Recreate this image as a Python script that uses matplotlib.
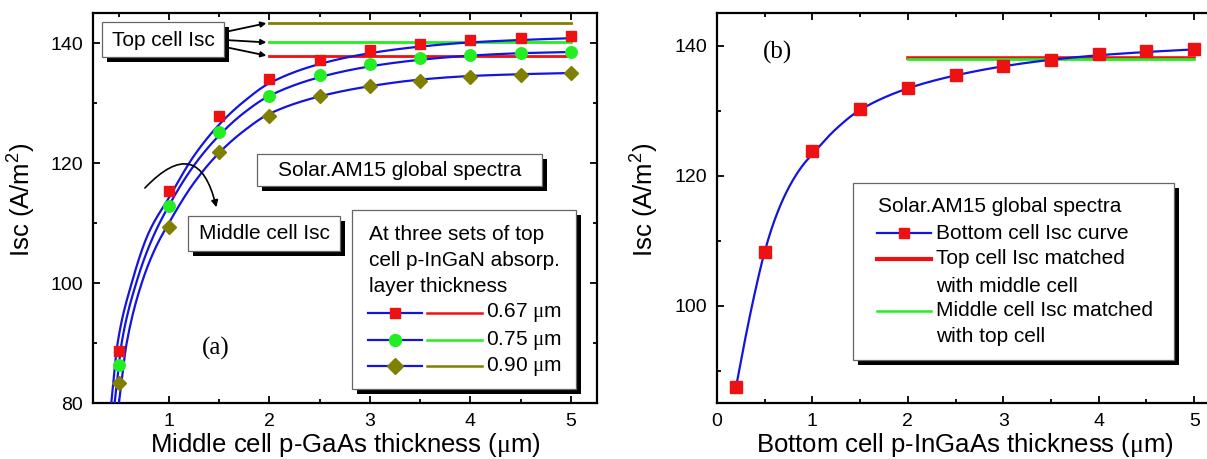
import numpy as np
import matplotlib
matplotlib.use("Agg")
import matplotlib.pyplot as plt
from matplotlib.patches import Rectangle, FancyArrowPatch
from matplotlib.lines import Line2D

plt.rcParams['font.family'] = ['Liberation Sans', 'DejaVu Sans']
plt.rcParams['mathtext.fontset'] = 'custom'
plt.rcParams['mathtext.rm'] = 'Liberation Serif'
plt.rcParams['mathtext.sf'] = 'Liberation Sans'
plt.rcParams['mathtext.it'] = 'Liberation Sans:italic'

# ---------------- panel (a): middle cell ----------------
thick_a = [0.5, 1.0, 1.5, 2.0, 2.5, 3.0, 3.5, 4.0, 4.5, 5.0]
isc_067 = [88.7, 115.4, 127.8, 134.0, 137.2, 138.8, 139.8, 140.5, 140.9, 141.1]
isc_075 = [86.4, 112.9, 125.2, 131.2, 134.7, 136.5, 137.5, 138.0, 138.3, 138.5]
isc_090 = [83.4, 109.4, 121.8, 127.9, 131.2, 132.8, 133.7, 134.3, 134.7, 135.0]

# fitted curves
fit_x_067 = [0.427, 0.49, 0.63, 0.8, 1.0, 1.25, 1.5, 1.75, 2.0, 2.5, 3.0, 3.5, 4.0, 4.5, 5.0]
fit_y_067 = [80.0, 90.0, 100.0, 108.4, 114.2, 121.2, 126.4, 130.3, 133.3, 136.5, 138.3, 139.4, 140.1, 140.5, 140.8]
fit_x_075 = [0.46, 0.53, 0.675, 0.83, 1.0, 1.25, 1.5, 1.75, 2.0, 2.5, 3.0, 3.5, 4.0, 4.5, 5.0]
fit_y_075 = [80.0, 90.0, 100.0, 107.2, 112.9, 119.6, 124.6, 128.4, 131.2, 134.3, 136.1, 137.2, 137.9, 138.3, 138.5]
fit_x_090 = [0.503, 0.58, 0.73, 0.86, 1.0, 1.25, 1.5, 1.75, 2.0, 2.5, 3.0, 3.5, 4.0, 4.5, 5.0]
fit_y_090 = [80.0, 90.0, 100.0, 105.6, 110.0, 116.7, 121.7, 125.4, 128.2, 131.1, 132.8, 133.9, 134.5, 134.8, 135.0]

# top cell Isc at three InGaN thicknesses
top_x = [2.0, 5.0]
top_067 = 137.9
top_075 = 140.1
top_090 = 143.3

# ---------------- panel (b): bottom cell ----------------
thick_b = [0.2, 0.5, 1.0, 1.5, 2.0, 2.5, 3.0, 3.5, 4.0, 4.5, 5.0]
isc_bottom = [87.5, 108.3, 123.8, 130.3, 133.5, 135.5, 136.9, 137.8, 138.7, 139.2, 139.5]
curve_x_b = [0.2, 0.3, 0.4, 0.5, 0.6, 0.7, 0.8, 0.9, 1.0, 1.25, 1.5, 2.0, 2.5, 3.0, 3.5, 4.0, 4.5, 5.0]
curve_y_b = [87.5, 95.2, 102.2, 108.3, 113.0, 116.6, 119.4, 121.6, 123.3, 127.2, 130.1, 133.4, 135.4, 136.8, 137.8, 138.5, 139.0, 139.4]
matched_x = [2.0, 5.0]
matched_top = 138.05
matched_mid = 138.0

RED = '#ee1111'
GREEN = '#22ee22'
OLIVE = '#808000'
BLUE = '#1414e0'


def smooth(x, y, n=300):
    """Shape-preserving cubic through the given curve samples."""
    x = np.asarray(x, float)
    y = np.asarray(y, float)
    h = np.diff(x)
    d = np.diff(y) / h
    m = np.zeros_like(y)
    m[0], m[-1] = d[0], d[-1]
    for k in range(1, len(x) - 1):
        if d[k - 1] * d[k] > 0:
            w1 = 2 * h[k] + h[k - 1]
            w2 = h[k] + 2 * h[k - 1]
            m[k] = (w1 + w2) / (w1 / d[k - 1] + w2 / d[k])
    xn = np.linspace(x[0], x[-1], n)
    i = np.clip(np.searchsorted(x, xn) - 1, 0, len(h) - 1)
    t = (xn - x[i]) / h[i]
    h00 = 2 * t**3 - 3 * t**2 + 1
    h10 = t**3 - 2 * t**2 + t
    h01 = -2 * t**3 + 3 * t**2
    h11 = t**3 - t**2
    yn = h00 * y[i] + h10 * h[i] * m[i] + h01 * y[i + 1] + h11 * h[i] * m[i + 1]
    return xn, yn


W, H = 1207, 459
fig = plt.figure(figsize=(W / 100, H / 100), dpi=100)


def fx(px):
    return px / W


def fy(py):
    return 1 - py / H


def axes_px(left, top, right, bottom):
    return fig.add_axes([fx(left), fy(bottom), (right - left) / W, (bottom - top) / H])


def shadow_box(x0, y0, x1, y1, off=5, edge='#666666'):
    fig.add_artist(Rectangle((fx(x0 + off), fy(y1 + off)), (x1 - x0) / W, (y1 - y0) / H,
                             transform=fig.transFigure, facecolor='black',
                             edgecolor='none', zorder=10))
    fig.add_artist(Rectangle((fx(x0), fy(y1)), (x1 - x0) / W, (y1 - y0) / H,
                             transform=fig.transFigure, facecolor='white',
                             edgecolor=edge, lw=0.9, zorder=11))


def ftext(x, y, s, **kw):
    kw.setdefault('fontsize', 15)
    kw.setdefault('va', 'center')
    kw.setdefault('ha', 'left')
    fig.text(fx(x), fy(y), s, zorder=12, **kw)


def fline(x0, x1, y, color, lw=1.5, marker=None, mcolor=None, ms=8):
    fig.add_artist(Line2D([fx(x0), fx(x1)], [fy(y), fy(y)], transform=fig.transFigure,
                          color=color, lw=lw, zorder=12))
    if marker:
        xm = (x0 + x1) / 2
        fig.add_artist(Line2D([fx(xm)], [fy(y)], transform=fig.transFigure, ls='none',
                              marker=marker, ms=ms, color=mcolor, zorder=13))


def style_axes(ax):
    for s in ax.spines.values():
        s.set_linewidth(1.6)
    ax.tick_params(which='both', direction='in', top=True, right=True, width=1.3,
                   labelsize=14, pad=7)
    ax.tick_params(which='major', length=5)
    ax.tick_params(which='minor', length=3)


MU = r'$\mathrm{\mu}$'
YLAB = r'Isc (A/m$^{\mathsf{2}}$)'

# ---------------- draw panel (a) ----------------
ax1 = axes_px(93, 13, 597, 403)
style_axes(ax1)
ax1.set_xlim(0.245, 5.26)
ax1.set_ylim(80, 145)
ax1.set_xticks([1, 2, 3, 4, 5])
ax1.set_xticks(np.arange(0.5, 5.01, 1.0), minor=True)
ax1.set_yticks([80, 100, 120, 140])
ax1.set_yticks([90, 110, 130], minor=True)

for fxs, fys in [(fit_x_067, fit_y_067), (fit_x_075, fit_y_075), (fit_x_090, fit_y_090)]:
    xs, ys = smooth(fxs, fys)
    ax1.plot(xs, ys, color=BLUE, lw=1.6, zorder=3)

ax1.plot(top_x, [top_090] * 2, color=OLIVE, lw=2.0, zorder=2)
ax1.plot(top_x, [top_075] * 2, color=GREEN, lw=2.0, zorder=2)
ax1.plot(top_x, [top_067] * 2, color=RED, lw=2.0, zorder=2)

ax1.plot(thick_a, isc_067, ls='none', marker='s', ms=7.5, color=RED, zorder=4)
ax1.plot(thick_a, isc_075, ls='none', marker='o', ms=8.3, color=GREEN, zorder=4)
ax1.plot(thick_a, isc_090, ls='none', marker='D', ms=7.5, color=OLIVE, zorder=4)

ax1.set_xlabel('Middle cell p-GaAs thickness (' + MU + 'm)', fontsize=18.5, labelpad=1)
ax1.set_ylabel(YLAB, fontsize=18.5)
ax1.yaxis.set_label_coords(-0.109, 0.52)
ax1.text(0.244, 0.141, '(a)', transform=ax1.transAxes, fontsize=18,
         family='Liberation Serif', ha='center', va='center')

# "Top cell Isc" call-out with arrows to the three horizontal lines
shadow_box(102, 22, 224, 57)
ftext(163, 40, 'Top cell Isc', ha='center')
for yv, ys in [(top_090, 32), (top_075, 40), (top_067, 47)]:
    ax1.annotate('', xy=(1.97, yv), xycoords='data',
                 xytext=(fx(225), fy(ys)), textcoords='figure fraction',
                 arrowprops=dict(arrowstyle='-|>', color='black', lw=1.3,
                                 mutation_scale=8, shrinkA=0, shrinkB=0),
                 zorder=13)

shadow_box(257, 154, 542, 186)
ftext(399.5, 170, 'Solar.AM15 global spectra', ha='center')

shadow_box(188, 216, 340, 251)
ftext(264, 234, 'Middle cell Isc', ha='center')

arc = FancyArrowPatch((fx(143), fy(190)), (fx(217), fy(210)), transform=fig.transFigure,
                      connectionstyle='arc3,rad=-0.95', arrowstyle='-|>',
                      mutation_scale=10, lw=1.2, color='black', zorder=13)
fig.add_artist(arc)

# legend of panel (a)
shadow_box(352, 210, 576, 389)
ftext(369, 235, 'At three sets of top')
ftext(369, 261, 'cell p-InGaN absorp.')
ftext(369, 287, 'layer thickness')
legend_rows = [(313, 's', RED, 7.8, RED, '0.67 '),
               (340, 'o', GREEN, 8.6, GREEN, '0.75 '),
               (366, 'D', OLIVE, 8.0, OLIVE, '0.90 ')]
for y, mk, mc, ms, lc, lab in legend_rows:
    fline(368, 422, y, BLUE, lw=1.6, marker=mk, mcolor=mc, ms=ms)
    fline(427, 482, y, lc, lw=1.8)
    ftext(486, y, lab + MU + 'm')

# ---------------- draw panel (b) ----------------
ax2 = axes_px(717, 13, 1219, 403)
style_axes(ax2)
ax2.set_xlim(0, 5.26)
ax2.set_ylim(85, 145)
ax2.set_xticks([0, 1, 2, 3, 4, 5])
ax2.set_xticks(np.arange(0.5, 5.01, 1.0), minor=True)
ax2.set_yticks([100, 120, 140])
ax2.set_yticks([90, 110, 130], minor=True)

ax2.plot(matched_x, [matched_top] * 2, color=RED, lw=2.6, zorder=2)
ax2.plot(matched_x, [matched_mid] * 2, color=GREEN, lw=2.0, zorder=2)
xs, ys = smooth(curve_x_b, curve_y_b)
ax2.plot(xs, ys, color=BLUE, lw=1.6, zorder=3)
ax2.plot(thick_b, isc_bottom, ls='none', marker='s', ms=8.3, color=RED, zorder=4)

ax2.set_xlabel('Bottom cell p-InGaAs thickness (' + MU + 'm)', fontsize=18.5, labelpad=1)
ax2.xaxis.label.set_x((965 - 717) / 502)
ax2.set_ylabel(YLAB, fontsize=18.5)
ax2.yaxis.set_label_coords(-0.112, 0.52)
ax2.text(0.12, 0.9, '(b)', transform=ax2.transAxes, fontsize=18,
         family='Liberation Serif', ha='center', va='center')

shadow_box(853, 183, 1174, 360)
ftext(878, 207, 'Solar.AM15 global spectra')
fline(877, 931, 233, BLUE, lw=1.6, marker='s', mcolor=RED, ms=7.5)
ftext(936, 233, 'Bottom cell Isc curve')
fline(877, 931, 259, RED, lw=3.0)
ftext(936, 259, 'Top cell Isc matched')
ftext(936, 286, 'with middle cell')
fline(877, 931, 311, GREEN, lw=1.8)
ftext(936, 311, 'Middle cell Isc matched')
ftext(936, 337, 'with top cell')

fig.savefig('out.png', dpi=100)
